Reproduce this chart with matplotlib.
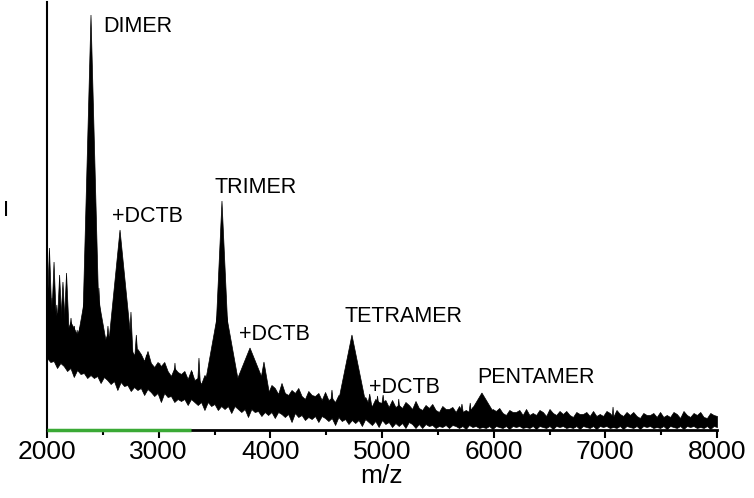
import numpy as np
import matplotlib
matplotlib.use("Agg")
import matplotlib.pyplot as plt

plt.rcParams['font.family'] = ['Liberation Sans', 'DejaVu Sans']

# noise band of the spectrum, sampled every 30 m/z (arbitrary intensity units)
band_mz = np.arange(2000, 8001, 30)
band_top = [
    115, 118, 107, 117, 104, 108, 99, 108, 102, 95,
    106, 95, 91, 98, 95, 101, 91, 87, 96, 91,
    88, 92, 82, 90, 79, 81, 75, 81, 76, 69,
    79, 67, 63, 68, 64, 68, 59, 54, 62, 58,
    56, 59, 51, 60, 50, 52, 46, 55, 51, 45,
    56, 47, 44, 50, 47, 52, 43, 41, 49, 45,
    44, 48, 40, 48, 40, 42, 37, 45, 42, 36,
    47, 37, 35, 40, 37, 42, 34, 31, 39, 35,
    34, 37, 30, 38, 30, 32, 28, 35, 32, 27,
    37, 29, 26, 32, 28, 33, 26, 24, 31, 28,
    27, 30, 23, 30, 23, 25, 22, 28, 25, 21,
    29, 22, 20, 25, 22, 26, 20, 18, 24, 21,
    21, 23, 18, 24, 18, 20, 18, 23, 21, 17,
    24, 19, 17, 21, 19, 22, 17, 15, 20, 18,
    18, 20, 15, 21, 15, 17, 15, 20, 18, 14,
    21, 17, 15, 19, 16, 19, 15, 13, 18, 16,
    16, 18, 14, 19, 14, 16, 14, 19, 17, 13,
    20, 16, 14, 18, 15, 18, 14, 12, 17, 15,
    15, 17, 13, 18, 13, 15, 13, 18, 16, 12,
    19, 15, 13, 17, 15, 18, 13, 12, 17, 15,
    14,
]
band_bottom = [
    72, 68, 69, 62, 67, 64, 59, 62, 53, 60,
    56, 57, 52, 55, 52, 54, 47, 53, 50, 46,
    49, 40, 48, 44, 45, 39, 43, 40, 42, 35,
    41, 38, 34, 37, 28, 37, 33, 34, 28, 31,
    29, 31, 25, 31, 28, 25, 28, 20, 28, 24,
    26, 20, 24, 21, 24, 17, 24, 21, 18, 21,
    13, 21, 18, 19, 14, 18, 15, 18, 12, 18,
    16, 13, 16, 8, 17, 13, 15, 10, 13, 11,
    14, 8, 14, 12, 9, 12, 5, 13, 9, 11,
    6, 10, 7, 10, 4, 11, 8, 5, 9, 3,
    10, 6, 8, 3, 7, 4, 7, 2, 8, 6,
    2, 6, 2, 6, 4, 5, 2, 4, 3, 5,
    2, 5, 4, 2, 4, 1, 5, 3, 4, 2,
    3, 2, 4, 1, 4, 3, 2, 4, 1, 4, 3, 4, 2,
    3, 2, 4, 1, 4, 3, 2, 4, 1, 4, 3, 4, 2,
    3, 2, 4, 1, 4, 3, 2, 4, 1, 4, 3, 4, 2,
    3, 2, 4, 1, 4, 3, 2, 4, 1, 4, 3, 4, 2,
    3, 2, 4, 1, 4, 3, 2, 4, 1, 4, 3, 4, 2,
    3, 2, 4, 1, 4, 3,
]

# peaks: position, apex intensity, half width at the foot
peak_mz = [2022, 2045, 2063, 2088, 2113, 2143, 2175, 2215, 2245, 2270,
           2355, 2394, 2400, 2465, 2546, 2654, 2752, 2800, 2890, 3010,
           3146, 3300, 3361, 3567, 3567, 3640, 3760, 3818, 3885, 3943,
           4552, 4731, 4890, 4960, 5010, 5150, 5716, 5790, 5895, 7069]
peak_height = [182, 132, 168, 125, 155, 148, 157, 112, 104, 100,
               142, 415, 170, 142, 104, 200, 118, 95, 75, 67,
               67, 58, 72, 229, 140, 78, 58, 82, 55, 68,
               40, 95, 36, 34, 35, 31, 26, 27, 37, 23]
peak_halfwidth = [28, 18, 28, 18, 28, 28, 30, 22, 22, 20,
                  30, 80, 150, 30, 22, 120, 24, 22, 16, 14,
                  14, 12, 16, 80, 170, 22, 16, 180, 16, 60,
                  16, 137, 30, 20, 20, 14, 20, 16, 130, 10]

labels = ["DIMER", "+DCTB", "TRIMER", "+DCTB", "TETRAMER", "+DCTB", "PENTAMER"]
label_mz = [2501, 2582, 3504, 3719, 4660, 4883, 5851]
label_height = [398, 208, 237, 90, 108, 37, 47]

green_range = [2000, 3290]

fig = plt.figure(figsize=(7.54, 4.98), dpi=100)
ax = fig.add_axes([47 / 754, 68 / 498, 670 / 754, 428 / 498])

ax.fill_between(band_mz, band_bottom, band_top, color='black', lw=0.5)
band_mid = (np.array(band_top) + np.array(band_bottom)) / 2
for mz, h, w in zip(peak_mz, peak_height, peak_halfwidth):
    b = np.interp(mz, band_mz, band_mid)
    ax.fill([mz - w, mz, mz + w], [b, h, b], color='black', lw=0.5)

for txt, x, y in zip(labels, label_mz, label_height):
    ax.text(x, y, txt, fontsize=15.5, ha='left', va='baseline')

ax.plot(green_range, [0, 0], color='#3aa935', lw=2.5, clip_on=False,
        zorder=5, solid_capstyle='butt')

ax.set_xlim(2000, 8000)
ax.set_ylim(0, 428)
ax.set_xticks(np.arange(2000, 8001, 1000))
ax.set_xticks(np.arange(2500, 8000, 1000), minor=True)
ax.set_yticks([])
ax.tick_params(axis='x', which='major', direction='out', length=6, width=1.5,
               labelsize=19, pad=1)
ax.tick_params(axis='x', which='minor', direction='out', length=3.5, width=1.5)
for s in ['top', 'right']:
    ax.spines[s].set_visible(False)
ax.spines['left'].set_linewidth(1.5)
ax.spines['bottom'].set_linewidth(2)

ax.set_xlabel('m/z', fontsize=19, labelpad=0)
fig.text(3 / 754, 1 - 216 / 498, 'I', fontsize=16, ha='left', va='baseline')

fig.savefig('out.png', dpi=100)
